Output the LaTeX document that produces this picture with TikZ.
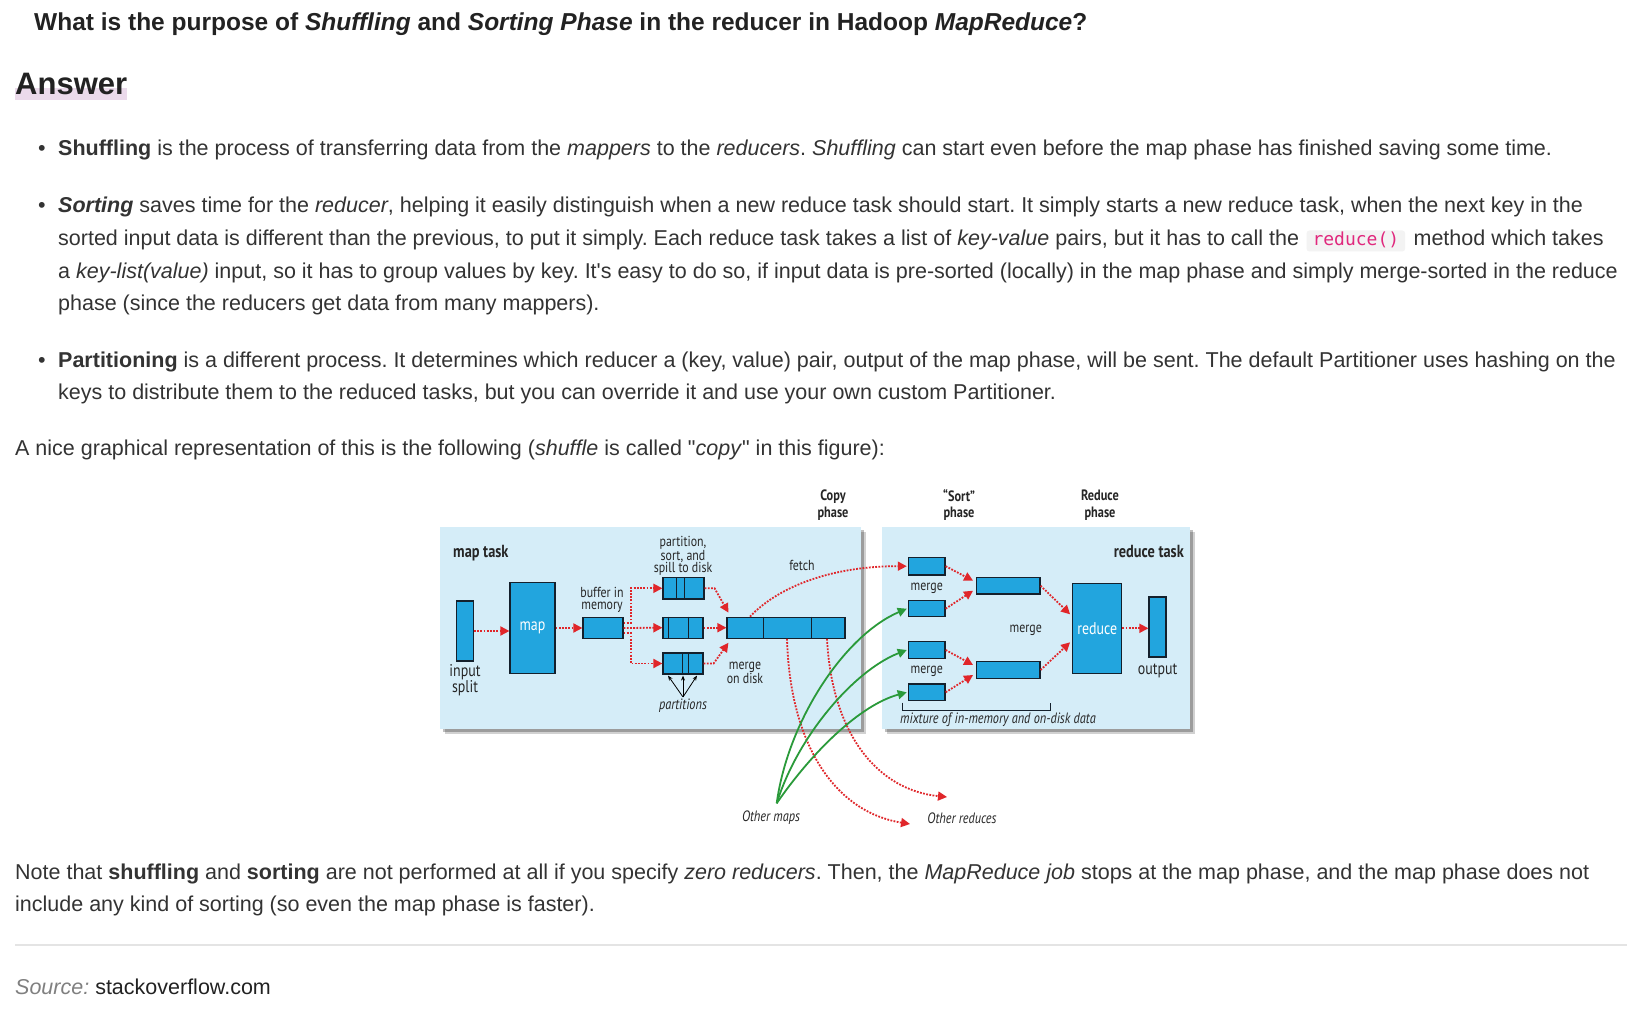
\documentclass[tikz,border=0pt]{standalone}
\usepackage{fontspec}
\setmainfont{Liberation Sans}
\newfontfamily\dfont{PT Sans}[FakeStretch=0.82]
\newfontfamily\codefont{DejaVu Sans Mono}
\usetikzlibrary{arrows.meta,calc}
\definecolor{textc}{HTML}{333333}
\definecolor{titlec}{HTML}{222222}
\definecolor{hlpink}{HTML}{EBDAEB}
\definecolor{codebg}{HTML}{F3F3F3}
\definecolor{codefg}{HTML}{E0287D}
\definecolor{rulec}{HTML}{E4E4E4}
\definecolor{srcgray}{HTML}{808080}
\definecolor{bgblue}{HTML}{D5EDF8}
\definecolor{hblue}{HTML}{22A5DE}
\definecolor{navy}{HTML}{14202C}
\definecolor{hred}{HTML}{E0262A}
\definecolor{hgreen}{HTML}{2A9A3A}
\definecolor{dtext}{HTML}{262626}
\newcommand\bodyf{\fontsize{21.5}{32}\selectfont\frenchspacing}
\tikzset{
  txt/.style={anchor=base west, inner sep=0, font=\bodyf, text=textc},
  bluebox/.style={draw=navy, line width=1.2pt, fill=hblue, inner sep=0, rectangle},
  divline/.style={draw=navy, line width=1.2pt},
  redarr/.style={draw=hred, line width=1.8pt, dash pattern=on 1.8pt off 1.4pt, -{Triangle[length=9pt,width=9pt,fill=hred]}},
  greenarr/.style={draw=hgreen, line width=1.8pt, -{Triangle[length=9pt,width=9pt,fill=hgreen]}},
  dlab/.style={font=\dfont\fontsize{14.5}{12.5}\selectfont, text=dtext, align=center, inner sep=0},
  dlabL/.style={font=\dfont\fontsize{17}{16.5}\selectfont, text=dtext, align=center, inner sep=0},
  dphase/.style={font=\dfont\bfseries\fontsize{15}{16.5}\selectfont, text=dtext, align=center, inner sep=0},
  dtask/.style={font=\dfont\bfseries\fontsize{17.5}{18}\selectfont, text=dtext, inner sep=0},
  dital/.style={font=\dfont\itshape\fontsize{15}{15}\selectfont, text=dtext, inner sep=0},
  whitelab/.style={text=white, font=\dfont\fontsize{17}{17}\selectfont},
}
\begin{document}
\begin{tikzpicture}[x=1pt,y=-1pt]
\useasboundingbox (0,0) rectangle (1648,1024);
\fill[white] (0,0) rectangle (1648,1024);

% ---------- text ----------
\node[anchor=base west, inner sep=0, text=titlec, font=\bfseries\fontsize{24.5}{28}\selectfont\frenchspacing] (title) at (34,31)
  {What is the purpose of \textit{Shuffling} and \textit{Sorting Phase} in the reducer in Hadoop \textit{MapReduce}?};
\fill[hlpink] (15,88) rectangle (127,100);
\node[anchor=base west, inner sep=0, text=titlec, font=\bfseries\fontsize{31}{36}\selectfont] (answer) at (15,95) {Answer};

\node[txt] (b1) at (38,156) {•};
\node[txt] (t1) at (58,156) {\textbf{Shuffling} is the process of transferring data from the \textit{mappers} to the \textit{reducers}. \textit{Shuffling} can start even before the map phase has finished saving some time.};

\node[txt] (b2) at (38,213) {•};
\node[txt] (t2) at (58,213) {\textbf{\textit{Sorting}} saves time for the \textit{reducer}, helping it easily distinguish when a new reduce task should start. It simply starts a new reduce task, when the next key in the};
\node[txt] (t3a) at (58,245.5) {sorted input data is different than the previous, to put it simply. Each reduce task takes a list of \textit{key-value} pairs, but it has to call the};
\node[anchor=base west, fill=codebg, rounded corners=3pt, inner xsep=6pt, inner ysep=0pt, text height=15pt, text depth=6pt, text=codefg, font=\codefont\fontsize{18}{20}\selectfont] (code) at ([xshift=7]t3a.base east) {reduce()};
\node[txt] (t3c) at ([xshift=8]code.base east) {method which takes};
\node[txt] (t4) at (58,278) {a \textit{key-list(value)} input, so it has to group values by key. It\textquotesingle s easy to do so, if input data is pre-sorted (locally) in the map phase and simply merge-sorted in the reduce};
\node[txt] (t5) at (58,310) {phase (since the reducers get data from many mappers).};

\node[txt] (b3) at (38,367) {•};
\node[txt] (t6) at (58,367) {\textbf{Partitioning} is a different process. It determines which reducer a (key, value) pair, output of the map phase, will be sent. The default Partitioner uses hashing on the};
\node[txt] (t7) at (58,399.5) {keys to distribute them to the reduced tasks, but you can override it and use your own custom Partitioner.};

\node[txt] (t8) at (15,455) {A nice graphical representation of this is the following (\textit{shuffle} is called \textquotedbl\textit{copy}\textquotedbl\ in this figure):};

\node[txt] (t9) at (15,879) {Note that \textbf{shuffling} and \textbf{sorting} are not performed at all if you specify \textit{zero reducers}. Then, the \textit{MapReduce job} stops at the map phase, and the map phase does not};
\node[txt] (t10) at (15,911.5) {include any kind of sorting (so even the map phase is faster).};
\draw[rulec, line width=1.3pt] (15,945) -- (1627,945);
\node[txt] (t11) at (15,994) {{\color{srcgray}\textit{Source:}} {\color{titlec}stackoverflow.com}};

% ---------- diagram backgrounds ----------
\fill[black, opacity=0.18] (445,532) rectangle (866,734);
\fill[black, opacity=0.25] (443,530) rectangle (864,732);
\fill[bgblue] (440,527) rectangle (861,729);
\fill[black, opacity=0.18] (887,532) rectangle (1195,734);
\fill[black, opacity=0.25] (885,530) rectangle (1193,732);
\fill[bgblue] (882,527) rectangle (1190,729);

% phase labels
\node[dphase] (copyph) at (833,505) {Copy\\phase};
\node[dphase] (sortph) at (959,505) {“Sort”\\phase};
\node[dphase] (redph) at (1100,505) {Reduce\\phase};

\node[dtask, anchor=base west] (maptask) at (453,557) {map task};
\node[dtask, anchor=base east] (redtask) at (1184,557) {reduce task};

% ---------- map side ----------
\node[bluebox, minimum width=16.6pt, minimum height=60pt] (insplit) at (465,631) {};
\node[dlabL, anchor=north] (insplitlab) at (465,664) {input\\split};
\node[bluebox, minimum width=45pt, minimum height=90.6pt, whitelab] (map) at (532.5,628) {map};
\node[bluebox, minimum width=40pt, minimum height=20.6pt] (buffer) at (603,628) {};
\node[dlab] (bufferlab) at (602,600) {buffer in\\memory};

\node[bluebox, minimum width=41pt, minimum height=21.3pt] (spill1) at (683.5,588.3) {};
\node[bluebox, minimum width=40pt, minimum height=21pt] (spill2) at (683,627.7) {};
\node[bluebox, minimum width=40pt, minimum height=21pt] (spill3) at (683,663.5) {};
\draw[divline] ([xshift=14.3]spill1.north west) -- ([xshift=14.3]spill1.south west);
\draw[divline] ([xshift=22]spill1.north west) -- ([xshift=22]spill1.south west);
\draw[divline] ([xshift=6.3]spill2.north west) -- ([xshift=6.3]spill2.south west);
\draw[divline] ([xshift=26.3]spill2.north west) -- ([xshift=26.3]spill2.south west);
\draw[divline] ([xshift=20.3]spill3.north west) -- ([xshift=20.3]spill3.south west);
\draw[divline] ([xshift=26.3]spill3.north west) -- ([xshift=26.3]spill3.south west);
\node[dlab] (spilllab) at (683,556) {partition,\\sort, and\\spill to disk};

\node[bluebox, minimum width=118pt, minimum height=21pt] (merged) at (786,627.7) {};
\draw[divline] ([xshift=37]merged.north west) -- ([xshift=37]merged.south west);
\draw[divline] ([xshift=85]merged.north west) -- ([xshift=85]merged.south west);
\node[dlab] (mergedisk) at (745,673) {merge\\on disk};
\node[dlab] (fetch) at (802,565) {fetch};

% partitions
\node[dital] (partlab) at (683,706) {partitions};
\coordinate (pp) at (683,697);
\draw[black, line width=0.8pt, -{Stealth[length=5pt,width=4pt]}] (pp) -- ([xshift=-15,yshift=-1]spill3.south);
\draw[black, line width=0.8pt, -{Stealth[length=5pt,width=4pt]}] (pp) -- ([yshift=-1]spill3.south);
\draw[black, line width=0.8pt, -{Stealth[length=5pt,width=4pt]}] (pp) -- ([xshift=14,yshift=-1]spill3.south);

% red arrows map side
\draw[redarr] (insplit.east) -- (insplit.east -| map.west);
\draw[redarr] (map.east |- buffer.west) -- (buffer.west);
\draw[redarr] ([yshift=5]buffer.east) -- ++(7,0) |- (spill1.west);
\draw[redarr] (buffer.east) -- (spill2.west);
\draw[redarr] ([yshift=-5]buffer.east) -- ++(7,0) |- (spill3.west);
\draw[redarr] (spill1.east) -- ++(10,0) -- ([xshift=2,yshift=4]merged.north west);
\draw[redarr] (spill2.east) -- (spill2.east -| merged.west);
\draw[redarr] (spill3.east) -- ++(10,0) -- ([xshift=2,yshift=-4]merged.south west);

% ---------- reduce side ----------
\node[bluebox, minimum width=36.7pt, minimum height=17.7pt] (m1) at (926.7,566.2) {};
\node[bluebox, minimum width=36.7pt, minimum height=16pt] (m2) at (926.7,608.7) {};
\node[bluebox, minimum width=36.7pt, minimum height=16.6pt] (m3) at (926.7,650) {};
\node[bluebox, minimum width=36.7pt, minimum height=16.7pt] (m4) at (926.7,692.3) {};
\node[dlab] (mlab1) at (926.7,588.3) {merge};
\node[dlab] (mlab2) at (926.7,671.7) {merge};
\node[bluebox, minimum width=63.3pt, minimum height=16.7pt] (bigA) at (1008.3,585.7) {};
\node[bluebox, minimum width=63.3pt, minimum height=16.6pt] (bigB) at (1008.3,670) {};
\node[dlab] (mlab3) at (1025.7,630) {merge};
\node[bluebox, minimum width=49pt, minimum height=90pt, whitelab] (reduce) at (1097.2,628.3) {reduce};
\node[bluebox, minimum width=17pt, minimum height=60pt] (output) at (1157.5,627) {};
\node[dlabL, anchor=north] (outlab) at (1157.7,664) {output};

\draw[redarr] (m1.east) -- ([xshift=-3,yshift=5]bigA.west);
\draw[redarr] (m2.east) -- ([xshift=-3,yshift=-5]bigA.west);
\draw[redarr] (m3.east) -- ([xshift=-3,yshift=5]bigB.west);
\draw[redarr] (m4.east) -- ([xshift=-3,yshift=-5]bigB.west);
\draw[redarr] (bigA.east) -- ([xshift=-2,yshift=14]reduce.west);
\draw[redarr] (bigB.east) -- ([xshift=-2,yshift=-14]reduce.west);
\draw[redarr] (reduce.east) -- (reduce.east -| output.west);

\draw[navy, line width=0.8pt] (902.7,702.7) -- (902.7,710.7) -- (1050,710.7) -- (1050,702.7);
\node[dital, anchor=west] (mixture) at (900,720) {mixture of in-memory and on-disk data};

% fetch
\draw[redarr] ([xshift=-36]merged.north) .. controls (780,585) and (835,566) .. ([xshift=-1]m1.west);

% other reduces
\draw[redarr] ([xshift=1]merged.south) .. controls (790,745) and (835,812) .. (910,824);
\draw[redarr] ([xshift=41]merged.south) .. controls (832,735) and (878,790) .. (947,797);
\node[dital] (othred) at (962,818) {Other reduces};

% other maps
\coordinate (om) at (776.7,803.3);
\node[dital] (othmaps) at (771,818) {Other maps};
\draw[greenarr] (om) .. controls (788,720) and (845,635) .. ([xshift=-1]m2.west);
\draw[greenarr] (om) .. controls (798,735) and (855,670) .. ([xshift=-1]m3.west);
\draw[greenarr] (om) .. controls (812,752) and (860,705) .. ([xshift=-1]m4.west);
\end{tikzpicture}
\end{document}
